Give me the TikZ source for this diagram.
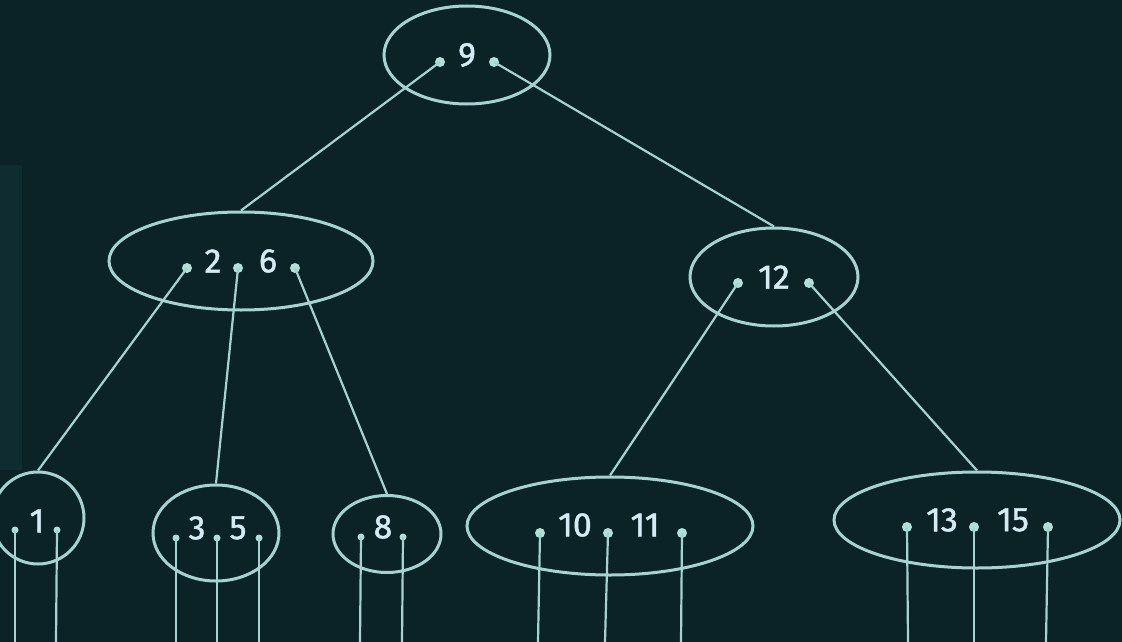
\documentclass[tikz,border=0pt]{standalone}
\usepackage{fontspec}
\setmainfont{Fira Sans}
\newfontfamily\keyfont[FakeBold=1.3]{Fira Sans}
\usetikzlibrary{shapes.geometric}
\definecolor{bg}{RGB}{11,35,38}
\definecolor{strip}{RGB}{15,45,48}
\definecolor{ln}{RGB}{165,210,210}
\definecolor{dotc}{RGB}{175,225,215}
\definecolor{txt}{RGB}{210,235,245}
\tikzset{
  bnode/.style={ellipse, draw=ln, line width=3pt, inner sep=0pt},
  ptr/.style={circle, fill=dotc, inner sep=0pt, minimum size=10pt},
  key/.style={text=txt, inner sep=0pt, font=\keyfont\fontsize{34}{34}\selectfont},
  edge/.style={draw=ln, line width=2.2pt}
}
\begin{document}
\begin{tikzpicture}[x=1pt,y=-1pt]
\fill[bg] (0,0) rectangle (1122,642);
\fill[strip] (0,165) rectangle (22,470);
\useasboundingbox (0,0) rectangle (1122,642);

% nodes
\node[bnode, minimum width=166pt, minimum height=98pt] (r) at (467,55) {};
\node[bnode, minimum width=264pt, minimum height=98pt] (a) at (241,261) {};
\node[bnode, minimum width=168pt, minimum height=98pt] (b) at (774,277) {};
\node[bnode, minimum width=92pt, minimum height=92pt] (l1) at (38,518) {};
\node[bnode, minimum width=126pt, minimum height=96pt] (l2) at (216,533) {};
\node[bnode, minimum width=108pt, minimum height=77pt] (l3) at (387,534) {};
\node[bnode, minimum width=286pt, minimum height=98pt] (l4) at (610,526) {};
\node[bnode, minimum width=286pt, minimum height=96pt] (l5) at (977,520) {};

% keys
\node[key] (k9) at (467,55) {9};
\node[key] (k2) at (213,261) {2};
\node[key] (k6) at (268,261) {6};
\node[key] (k12) at (774,277) {12};
\node[key] (k1) at (37,521) {1};
\node[key] (k3) at (197,528) {3};
\node[key] (k5) at (238,528) {5};
\node[key] (k8) at (383,527) {8};
\node[key] (k10) at (575,525) {10};
\node[key] (k11) at (645,525) {11};
\node[key] (k13) at (942,520) {13};
\node[key] (k15) at (1013,520) {15};

% pointer dots
\node[ptr] (r1) at (440,62) {};
\node[ptr] (r2) at (494,62) {};
\node[ptr] (a1) at (187,268) {};
\node[ptr] (a2) at (238,268) {};
\node[ptr] (a3) at (295,268) {};
\node[ptr] (b1) at (738,283) {};
\node[ptr] (b2) at (809,283) {};
\node[ptr, minimum size=7pt] (p11) at (15,530) {};
\node[ptr, minimum size=7pt] (p12) at (57,530) {};
\node[ptr, minimum size=7pt] (p21) at (176,538) {};
\node[ptr, minimum size=7pt] (p22) at (217,538) {};
\node[ptr, minimum size=7pt] (p23) at (259,538) {};
\node[ptr, minimum size=7pt] (p31) at (361,537) {};
\node[ptr, minimum size=7pt] (p32) at (403,537) {};
\node[ptr] (p41) at (540,533) {};
\node[ptr] (p42) at (608,533) {};
\node[ptr] (p43) at (682,533) {};
\node[ptr] (p51) at (907,527) {};
\node[ptr] (p52) at (974,527) {};
\node[ptr] (p53) at (1048,527) {};

% bottom ends
\coordinate (e11) at (15,642);
\coordinate (e12) at (56,642);
\coordinate (e21) at (176,642);
\coordinate (e22) at (217,642);
\coordinate (e23) at (259,642);
\coordinate (e31) at (360,642);
\coordinate (e32) at (402,642);
\coordinate (e41) at (538,642);
\coordinate (e42) at (605,642);
\coordinate (e43) at (681,642);
\coordinate (e51) at (908,642);
\coordinate (e52) at (974,642);
\coordinate (e53) at (1046,642);

% edges
\draw[edge] (r1.center) -- (a.north);
\draw[edge] (r2.center) -- (b.north);
\draw[edge] (a1.center) -- (l1.north);
\draw[edge] (a2.center) -- (l2.north);
\draw[edge] (a3.center) -- (l3.north);
\draw[edge] (b1.center) -- (l4.north);
\draw[edge] (b2.center) -- (l5.north);
\foreach \p/\e in {p11/e11,p12/e12,p21/e21,p22/e22,p23/e23,p31/e31,p32/e32,p41/e41,p42/e42,p43/e43,p51/e51,p52/e52,p53/e53}
  \draw[edge] (\p.center) -- (\e);
\end{tikzpicture}
\end{document}
